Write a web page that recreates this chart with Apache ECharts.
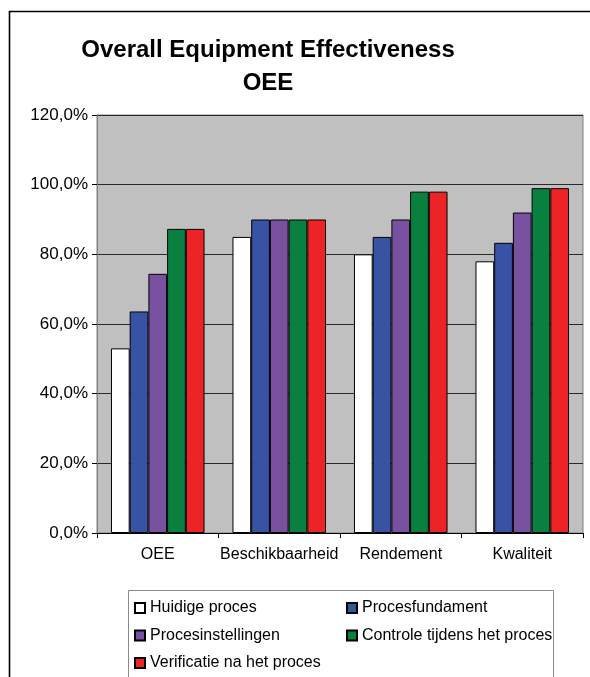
<!DOCTYPE html>
<html>
<head>
<meta charset="utf-8">
<script src="https://cdn.jsdelivr.net/npm/echarts@6/dist/echarts.min.js"></script>
<style>
  html, body { margin: 0; padding: 0; background: #fff; }
  #chart { width: 590px; height: 677px; }
</style>
</head>
<body>
<div id="chart"></div>
<script>
// Categories on the x axis
const categories = ['OEE', 'Beschikbaarheid', 'Rendement', 'Kwaliteit'];

// Values in percent, one array per improvement step
const huidigeProces = [53.0, 85, 80, 78];
const procesfundament = [63.6, 90, 85, 83.3];
const procesinstellingen = [74.4, 90, 90, 92];
const controleTijdens = [87.3, 90, 98, 99];
const verificatieNa = [87.3, 90, 98, 99];

// Y axis ticks
const yTicks = [0, 20, 40, 60, 80, 100, 120];

const seriesDefs = [
  { name: 'Huidige proces', data: huidigeProces, color: '#FFFFFF' },
  { name: 'Procesfundament', data: procesfundament, color: '#3953A4' },
  { name: 'Procesinstellingen', data: procesinstellingen, color: '#7851A0' },
  { name: 'Controle tijdens het proces', data: controleTijdens, color: '#0A8040' },
  { name: 'Verificatie na het proces', data: verificatieNa, color: '#EE2326' }
];

const FONT = '"Liberation Sans", Arial, sans-serif';

const chart = echarts.init(document.getElementById('chart'), null, { renderer: 'canvas' });

const legendText = { fontFamily: FONT, fontSize: 16, color: '#000', lineHeight: 16 };

chart.setOption({
  animation: false,
  backgroundColor: '#fff',
  title: {
    text: 'Overall Equipment Effectiveness\nOEE',
    left: 268,
    top: 34,
    textAlign: 'center',
    padding: 0,
    textStyle: { fontFamily: FONT, fontSize: 24, fontWeight: 'bold', color: '#000', lineHeight: 33 }
  },
  graphic: [
    // outer chart frame
    { type: 'rect', left: 7, top: 9, shape: { width: 700, height: 800 },
      style: { fill: 'none', stroke: '#000', lineWidth: 1.6 }, z: 0 },
    // legend box
    { type: 'rect', left: 128, top: 590, shape: { width: 425, height: 120 },
      style: { fill: '#fff', stroke: '#8a8a8a', lineWidth: 1 }, z: 1 }
  ],
  legend: [
    {
      data: ['Huidige proces', 'Procesinstellingen', 'Verificatie na het proces'],
      orient: 'vertical', left: 134, top: 600, padding: 0,
      itemWidth: 10, itemHeight: 10, itemGap: 11.5,
      icon: 'rect', textStyle: legendText, selectedMode: false, z: 5
    },
    {
      data: ['Procesfundament', 'Controle tijdens het proces'],
      orient: 'vertical', left: 346, top: 600, padding: 0,
      itemWidth: 10, itemHeight: 10, itemGap: 11.5,
      icon: 'rect', textStyle: legendText, selectedMode: false, z: 5
    }
  ],
  grid: {
    left: 97, right: 7, top: 115, bottom: 144,
    show: true, backgroundColor: '#C0C0C0', borderColor: '#808080', borderWidth: 1
  },
  xAxis: {
    type: 'category',
    data: categories,
    boundaryGap: true,
    axisLine: { show: true, lineStyle: { color: '#000', width: 1 } },
    axisTick: { show: true, length: 5, alignWithLabel: false, interval: 0, lineStyle: { color: '#000' } },
    axisLabel: { fontFamily: FONT, fontSize: 16, color: '#000', margin: 14, interval: 0 }
  },
  yAxis: {
    type: 'value',
    min: yTicks[0],
    max: yTicks[yTicks.length - 1],
    interval: 20,
    axisLine: { show: true, lineStyle: { color: '#808080', width: 1 } },
    axisTick: { show: true, length: 5, lineStyle: { color: '#000' } },
    axisLabel: {
      fontFamily: FONT, fontSize: 17, color: '#000', margin: 9,
      formatter: v => v.toFixed(1).replace('.', ',') + '%'
    },
    splitLine: { show: true, lineStyle: { color: '#2a2a2a', width: 1 } }
  },
  series: seriesDefs.map(s => ({
    name: s.name,
    type: 'bar',
    data: s.data,
    barGap: '0%',
    barCategoryGap: '23%',
    itemStyle: { color: s.color, borderColor: '#000', borderWidth: 1 },
    emphasis: { disabled: true }
  }))
});
</script>
</body>
</html>
